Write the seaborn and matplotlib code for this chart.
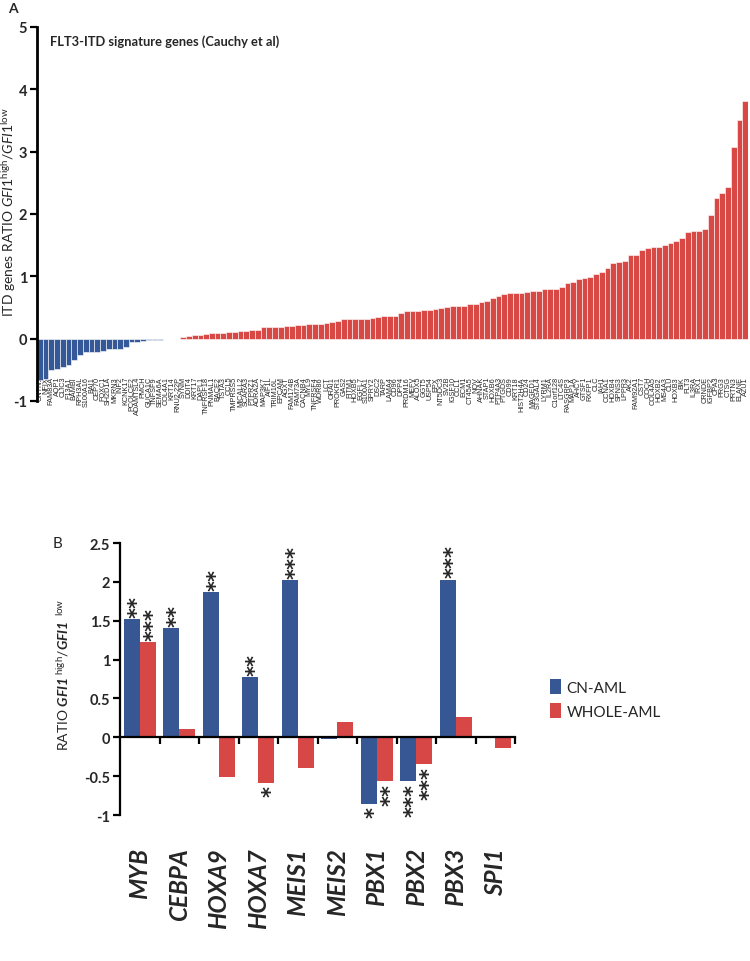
import matplotlib
matplotlib.use("Agg")
import matplotlib.pyplot as plt
import seaborn as sns
import pandas as pd
import numpy as np

# ---- panel A: FLT3-ITD signature genes ----
itd_genes = [
    "CNTN1", "NFIX", "FAM83A", "AQP1", "CLIC3", "F13A1", "BAMBI", "RPH3AL", "S100A16", "BAI1",
    "CEP70", "FOXC1", "SH2D1A", "MKRN3", "INF2", "KCNK17", "PCOLCE2", "ADAMTSL4", "PMCH", "GUCA1C",
    "TNFSF9", "SEMA6A", "COL4A1", "KRT14", "RNU2-22P", "SYNM", "DDIT4", "KRT17", "DAPL1", "TNFRSF18",
    "PNMAL1", "BACE2", "TSTA3", "CCL5", "TMPRSS5", "MICALL2", "SCARA3", "PTPRZ1", "ADRA2A", "MAP3K7",
    "AIF1L", "TRIM16L", "EPCAM", "AGXT", "FAM174B", "FAM73A", "CACNB4", "MYL9", "TNFRSF4", "WDR86",
    "LCT", "ORAI1", "PROKR1", "GAS2", "FITM1", "HOXB5", "EGFL7", "S100A1", "SPRY2", "DSC2",
    "TARP", "LAMA4", "CD96", "DPP4", "PRDM16", "MEFV", "ALOX5", "GGT5", "USP54", "EPX",
    "NT5DC3", "SV2B", "IGSF10", "CCL1", "ECM1", "CT45A5", "NOV", "AHNAK", "STAP1", "HOXB6",
    "PTP4A3", "PTGDS", "CD99", "KRT18", "HIST2H4A", "CD24", "MAGED1", "ST3GAL4", "LYRM1", "IL2RA",
    "C1orf128", "LTC4S", "RASGRP3", "MAP1A", "AHCY", "GTSF1", "RXFP1", "CLC", "IAH1", "CCNA1",
    "HOXB4", "SPNS3", "LPPR3", "AK2", "FAM92A1", "CST7", "COCH", "COL4A5", "HOXB2", "MS4A3",
    "CLU", "HOXB3", "BIK", "FLT3", "IL3RA", "IRX1", "CRNDE", "IGFBP2", "CPA3", "PRG3",
    "CTSG", "PRTN3", "ELANE", "AZU1",
]
itd_ratio = [
    -0.66, -0.64, -0.50, -0.48, -0.45, -0.42, -0.34, -0.26, -0.22, -0.21,
    -0.21, -0.19, -0.17, -0.16, -0.16, -0.14, -0.055, -0.055, -0.03, -0.02,
    -0.015, -0.015, 0.0, 0.0, 0.0, 0.025, 0.05, 0.055, 0.065, 0.075,
    0.085, 0.09, 0.09, 0.10, 0.10, 0.125, 0.13, 0.14, 0.14, 0.185,
    0.19, 0.19, 0.19, 0.20, 0.20, 0.215, 0.215, 0.23, 0.23, 0.24,
    0.25, 0.26, 0.28, 0.31, 0.31, 0.31, 0.31, 0.31, 0.33, 0.35,
    0.37, 0.37, 0.37, 0.41, 0.44, 0.45, 0.45, 0.46, 0.46, 0.48,
    0.49, 0.51, 0.52, 0.53, 0.53, 0.55, 0.55, 0.59, 0.61, 0.66,
    0.69, 0.72, 0.73, 0.73, 0.74, 0.75, 0.76, 0.77, 0.79, 0.79,
    0.80, 0.83, 0.90, 0.905, 0.95, 0.97, 0.99, 1.045, 1.075, 1.14,
    1.21, 1.23, 1.25, 1.34, 1.345, 1.42, 1.46, 1.465, 1.465, 1.51,
    1.53, 1.57, 1.61, 1.71, 1.72, 1.72, 1.76, 1.99, 2.25, 2.34,
    2.44, 3.07, 3.50, 3.82,
]

# ---- panel B: selected genes in two cohorts ----
b_genes = ["MYB", "CEBPA", "HOXA9", "HOXA7", "MEIS1", "MEIS2", "PBX1", "PBX2", "PBX3", "SPI1"]
cn_aml = [1.52, 1.40, 1.87, 0.78, 2.02, -0.02, -0.855, -0.565, 2.03, -0.015]
whole_aml = [1.22, 0.105, -0.51, -0.59, -0.40, 0.20, -0.565, -0.34, 0.26, -0.14]
cn_stars = ["**", "**", "**", "**", "***", "", "*", "***", "***", ""]
whole_stars = ["***", "", "", "*", "", "", "**", "***", "", ""]
cohorts = ["CN-AML", "WHOLE-AML"]

BLUE_A, RED_A = "#2553A8", "#F0302D"
BLUE_B, RED_B = "#2751A4", "#EF2F2E"

sns.set_style("white")
plt.rcParams["font.family"] = ["Lato", "DejaVu Sans"]
plt.rcParams["mathtext.fontset"] = "custom"
plt.rcParams["mathtext.rm"] = "Lato"
plt.rcParams["mathtext.it"] = "Lato:italic"
plt.rcParams["mathtext.bf"] = "Lato:italic:bold"

fig = plt.figure(figsize=(7.5, 9.62), dpi=100)

# ---------------- panel A ----------------
axa = fig.add_axes([37 / 750, 1 - 402 / 962, 711 / 750, 374 / 962])
df_a = pd.DataFrame({"gene": itd_genes, "ratio": itd_ratio})
df_a["dir"] = np.where(df_a["ratio"] < 0, "down", "up")
sns.barplot(data=df_a, x="gene", y="ratio", hue="dir", order=itd_genes,
            palette={"down": BLUE_A, "up": RED_A}, dodge=False, width=1.0,
            errorbar=None, edgecolor="white", linewidth=0.4, legend=False, ax=axa)
axa.set_xlim(-0.5, len(itd_genes) - 0.5)
axa.set_ylim(-1, 5)
axa.set_yticks(range(-1, 6))
axa.set_yticklabels([str(v) for v in range(-1, 6)], fontweight="bold", fontsize=10.5)
for s in ["top", "right", "bottom"]:
    axa.spines[s].set_visible(False)
axa.spines["left"].set_linewidth(2)
axa.spines["left"].set_color("black")
axa.tick_params(axis="y", left=True, length=5, width=1.6, pad=2, color="black")
axa.set_xticks(range(len(itd_genes)))
axa.set_xticklabels(itd_genes, rotation=90, fontsize=5.2, family="Liberation Sans")
axa.tick_params(axis="x", length=0, pad=-18)
axa.set_xlabel("")
axa.set_ylabel(r"ITD genes RATIO $\mathit{GFI1}^{\mathrm{high}}$/$\mathit{GFI1}^{\mathrm{low}}$",
               fontsize=10)
axa.yaxis.set_label_coords(-0.027, 0.507)
axa.text(0.018, 0.963, "FLT3-ITD signature genes (Cauchy et al)", transform=axa.transAxes,
         fontsize=9.3, fontweight="bold", va="center", ha="left")
fig.text(13 / 750, 1 - 9 / 962, "A", fontsize=10, fontweight="bold", va="center", ha="center")

# ---------------- panel B ----------------
axb = fig.add_axes([120 / 750, 1 - 816 / 962, 395 / 750, 272 / 962])
df_b = pd.DataFrame({
    "gene": b_genes * 2,
    "ratio": cn_aml + whole_aml,
    "cohort": [cohorts[0]] * len(b_genes) + [cohorts[1]] * len(b_genes),
})
sns.barplot(data=df_b, x="gene", y="ratio", hue="cohort", order=b_genes, hue_order=cohorts,
            palette=[BLUE_B, RED_B], width=0.8, errorbar=None, linewidth=0, ax=axb)
axb.set_xlim(-0.5, len(b_genes) - 0.5)
axb.set_ylim(-1, 2.5)
yt = [-1, -0.5, 0, 0.5, 1, 1.5, 2, 2.5]
axb.set_yticks(yt)
axb.set_yticklabels(["-1", "-0.5", "0", "0.5", "1", "1.5", "2", "2.5"], fontsize=10.5,
                    fontweight="bold")
for s in ["top", "right"]:
    axb.spines[s].set_visible(False)
axb.spines["bottom"].set_position(("data", 0))
for s in ["left", "bottom"]:
    axb.spines[s].set_linewidth(1.6)
    axb.spines[s].set_color("black")
axb.tick_params(axis="y", left=True, length=5, width=1.6, pad=2, color="black")
axb.set_xticks(range(len(b_genes)))
axb.set_xticklabels(b_genes, rotation=90, fontsize=17.5, fontstyle="italic", fontweight="bold")
axb.set_xticks(np.arange(0.5, len(b_genes), 1), minor=True)
axb.tick_params(axis="x", which="major", length=0, pad=79)
axb.tick_params(axis="x", which="minor", bottom=True, length=5, width=1.6, color="black")
axb.set_xlabel("")
axb.set_ylabel(r"RATIO $\mathbf{GFI1}^{\ \mathrm{high}}$/$\mathbf{GFI1}^{\ \ \mathrm{low}}$",
               fontsize=10)
axb.yaxis.set_label_coords(-0.125, 0.52)

# significance stars (rotated text; asterisk sits high in the em box, so shift right)
STAR_FS = 15
for cont, stars in zip(axb.containers, [cn_stars, whole_stars]):
    for bar, st in zip(cont, stars):
        if not st:
            continue
        xc = bar.get_x() + bar.get_width() / 2
        h = bar.get_height()
        up = h >= 0
        axb.annotate(st, xy=(xc, h), xytext=(0.27 * STAR_FS, 1.5 if up else -1.5),
                     textcoords="offset points", rotation=90, ha="center",
                     va="bottom" if up else "top", fontsize=STAR_FS, fontweight="bold",
                     family="DejaVu Sans")

sns.move_legend(axb, "upper left", bbox_to_anchor=(1.055, 0.55), frameon=False, title=None,
                fontsize=11, handlelength=0.7, handleheight=1.1, labelspacing=0.55,
                handletextpad=0.35)
fig.text(58 / 750, 1 - 544 / 962, "B", fontsize=11, va="center", ha="center")

fig.savefig("out.png", dpi=100)
